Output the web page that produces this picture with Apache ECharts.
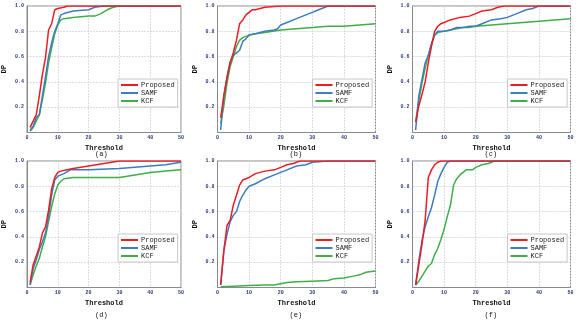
<!DOCTYPE html>
<html><head><meta charset="utf-8">
<script src="https://cdn.jsdelivr.net/npm/echarts@6/dist/echarts.min.js"></script>
<style>html,body{margin:0;padding:0;background:#fff}#c{width:579px;height:322px}</style>
</head><body><div id="c"></div>
<script>
var seriesNames = ['Proposed', 'SAMF', 'KCF'];
var captions = ['(a)', '(b)', '(c)', '(d)', '(e)', '(f)'];
var xTicks = [0, 10, 20, 30, 40, 50];
var yTicks = [0.2, 0.4, 0.6, 0.8, 1.0];

// Panel (a)
var aProposed = [[1,0.04],[2,0.09],[3,0.14],[4,0.29],[5,0.46],[6,0.59],[7,0.81],[8,0.86],[9,0.97],[10,0.98],[12,0.99],[13,1.0],[50,1.0]];
var aSAMF = [[1,0.02],[2,0.05],[3,0.12],[4,0.14],[5,0.29],[6,0.44],[7,0.60],[8,0.71],[9,0.80],[10,0.86],[11,0.93],[12,0.94],[15,0.96],[20,0.97],[22,0.99],[25,1.0],[50,1.0]];
var aKCF = [[1,0.01],[2,0.04],[3,0.09],[4,0.14],[5,0.26],[6,0.39],[7,0.55],[8,0.67],[9,0.78],[10,0.85],[11,0.89],[12,0.90],[15,0.91],[20,0.92],[22,0.92],[24,0.94],[26,0.97],[28,0.99],[30,1.0],[50,1.0]];
// Panel (b)
var bProposed = [[1,0.115],[2,0.29],[3,0.43],[4,0.55],[5,0.63],[6,0.73],[7,0.86],[8,0.89],[9,0.93],[10,0.95],[11,0.97],[12,0.97],[15,0.99],[20,1.0],[50,1.0]];
var bSAMF = [[1,0.02],[2,0.29],[3,0.44],[4,0.56],[5,0.61],[6,0.63],[7,0.65],[8,0.72],[9,0.74],[10,0.77],[12,0.78],[15,0.80],[18,0.81],[19,0.82],[20,0.85],[22,0.87],[25,0.90],[28,0.93],[30,0.95],[32,0.97],[34,0.99],[35,1.0],[50,1.0]];
var bKCF = [[1,0.07],[2,0.21],[3,0.39],[4,0.52],[5,0.60],[6,0.68],[7,0.73],[8,0.75],[10,0.77],[12,0.78],[15,0.79],[20,0.81],[25,0.82],[30,0.83],[35,0.84],[40,0.84],[45,0.85],[50,0.86]];
// Panel (c)
var cProposed = [[1,0.08],[2,0.21],[3,0.30],[4,0.40],[5,0.55],[6,0.68],[7,0.80],[8,0.84],[9,0.86],[10,0.87],[12,0.89],[15,0.91],[18,0.92],[20,0.94],[22,0.96],[25,0.97],[27,0.99],[29,1.0],[50,1.0]];
var cSAMF = [[1,0.02],[2,0.29],[3,0.42],[4,0.55],[5,0.61],[6,0.70],[7,0.77],[8,0.80],[10,0.80],[12,0.81],[14,0.83],[16,0.83],[18,0.84],[20,0.84],[22,0.86],[25,0.89],[28,0.90],[30,0.91],[33,0.94],[36,0.97],[38,0.98],[40,1.0],[50,1.0]];
var cKCF = [[1,0.09],[2,0.25],[3,0.39],[4,0.51],[5,0.61],[6,0.70],[7,0.77],[8,0.79],[10,0.80],[12,0.81],[14,0.82],[16,0.83],[18,0.83],[20,0.84],[25,0.85],[30,0.86],[35,0.87],[40,0.88],[45,0.89],[50,0.90]];
// Panel (d)
var dProposed = [[1,0.04],[2,0.18],[3,0.25],[4,0.32],[5,0.43],[6,0.48],[7,0.61],[8,0.78],[9,0.87],[10,0.91],[11,0.92],[13,0.93],[15,0.94],[20,0.96],[25,0.98],[30,1.0],[50,1.0]];
var dSAMF = [[1,0.02],[2,0.15],[3,0.22],[4,0.30],[5,0.36],[6,0.43],[7,0.56],[8,0.73],[9,0.85],[10,0.88],[12,0.90],[14,0.93],[20,0.93],[30,0.94],[40,0.96],[45,0.97],[50,0.99]];
var dKCF = [[1,0.02],[2,0.10],[3,0.17],[4,0.23],[5,0.32],[6,0.40],[7,0.52],[8,0.64],[9,0.74],[10,0.81],[11,0.84],[12,0.86],[15,0.87],[20,0.87],[28,0.87],[30,0.87],[35,0.89],[40,0.91],[45,0.92],[50,0.93]];
// Panel (e)
var eProposed = [[1,0.02],[2,0.29],[3,0.49],[4,0.53],[5,0.65],[6,0.73],[7,0.81],[8,0.85],[9,0.86],[10,0.87],[12,0.90],[15,0.92],[18,0.93],[20,0.95],[22,0.97],[24,0.98],[26,1.0],[50,1.0]];
var eSAMF = [[1,0.02],[2,0.29],[3,0.42],[4,0.52],[5,0.57],[6,0.60],[7,0.68],[8,0.73],[9,0.77],[10,0.80],[12,0.82],[15,0.86],[18,0.89],[20,0.91],[22,0.93],[25,0.96],[28,0.97],[30,0.99],[35,1.0],[50,1.0]];
var eKCF = [[1,0.005],[5,0.01],[10,0.015],[15,0.02],[18,0.02],[20,0.03],[22,0.04],[25,0.045],[30,0.05],[35,0.055],[37,0.07],[40,0.075],[43,0.09],[45,0.10],[47,0.12],[50,0.13]];
// Panel (f)
var fProposed = [[1,0.02],[2,0.18],[3,0.34],[4,0.53],[5,0.87],[6,0.93],[7,0.97],[8,0.99],[9,1.0],[50,1.0]];
var fSAMF = [[1,0.02],[2,0.21],[3,0.37],[4,0.48],[5,0.56],[6,0.63],[7,0.73],[8,0.84],[9,0.90],[10,0.95],[11,0.99],[12,1.0],[50,1.0]];
var fKCF = [[1,0.02],[2,0.05],[3,0.09],[4,0.13],[5,0.17],[6,0.19],[7,0.26],[8,0.31],[9,0.38],[10,0.46],[11,0.56],[12,0.65],[13,0.81],[14,0.86],[15,0.89],[16,0.91],[17,0.93],[19,0.93],[20,0.95],[22,0.97],[24,0.98],[26,1.0],[50,1.0]];

var panels = [
  [aProposed, aSAMF, aKCF], [bProposed, bSAMF, bKCF], [cProposed, cSAMF, cKCF],
  [dProposed, dSAMF, dKCF], [eProposed, eSAMF, eKCF], [fProposed, fSAMF, fKCF]
];
var colors = ['#ec1c24', '#3b7dc0', '#3fae49'];
var lefts = [23, 217.5, 412.5];
var tops = [6, 161];
var gw = 158, gh = 126.5;
var mono = '"Liberation Mono", monospace';

var grids = [], xAxes = [], yAxes = [], series = [], legends = [], graphics = [];
panels.forEach(function (p, i) {
  var col = i % 3, row = Math.floor(i / 3);
  var L = lefts[col], T = tops[row];
  grids.push({left: L, top: T, width: gw, height: gh, show: true, borderColor: '#8a8a8a', borderWidth: 1, containLabel: false});
  xAxes.push({
    gridIndex: i, type: 'value', min: xTicks[0], max: xTicks[xTicks.length - 1], interval: 10,
    name: 'Threshold', nameLocation: 'middle', nameGap: 12,
    nameTextStyle: {fontFamily: mono, fontSize: 7, fontWeight: 'bold', color: '#111'},
    axisLine: {show: true, lineStyle: {color: '#8a8a8a', width: 1}},
    axisTick: {show: false},
    axisLabel: {fontFamily: mono, fontSize: 5, fontWeight: 'bold', color: '#2c3a86', margin: 3},
    splitLine: {show: true, lineStyle: {color: '#d4d4d4', type: [2, 1], width: 0.8}}
  });
  yAxes.push({
    gridIndex: i, type: 'value', min: 0, max: 1, interval: 0.2,
    name: 'DP', nameLocation: 'middle', nameGap: 19, nameRotate: 90,
    nameTextStyle: {fontFamily: mono, fontSize: 7, fontWeight: 'bold', color: '#111'},
    axisLine: {show: true, lineStyle: {color: '#8a8a8a', width: 1}},
    axisTick: {show: false},
    axisLabel: {fontFamily: mono, fontSize: 5, fontWeight: 'bold', color: '#2c3a86', margin: 3,
      formatter: function (v) { return yTicks.indexOf(Math.round(v * 10) / 10) >= 0 && v > 0 ? v.toFixed(1) : ''; }},
    splitLine: {show: true, lineStyle: {color: '#d4d4d4', type: [2, 1], width: 0.8}}
  });
  p.forEach(function (d, k) {
    series.push({
      name: seriesNames[k], type: 'line', xAxisIndex: i, yAxisIndex: i, data: d,
      showSymbol: false, symbol: 'none', smooth: false, z: 3 - k + 2,
      lineStyle: {color: colors[k], width: 1.5}, itemStyle: {color: colors[k]}
    });
  });
  legends.push({
    data: seriesNames, orient: 'vertical', left: L + gw - 63, top: T + 73,
    icon: 'rect', itemWidth: 17, itemHeight: 2, itemGap: 0,
    padding: [2, 3, 2, 3], borderColor: '#c8c8c8', borderWidth: 1, backgroundColor: '#fff',
    textStyle: {fontFamily: mono, fontSize: 7, color: '#222', lineHeight: 8, padding: [0, 0, 0, -2]},
    selectedMode: false
  });
  graphics.push({
    type: 'text', left: L + gw / 2 - 7, top: (row === 0 ? 150.5 : 312),
    style: {text: captions[i], font: '7px ' + mono, fill: '#111'}
  });
});

var chart = echarts.init(document.getElementById('c'), null, {renderer: 'canvas'});
chart.setOption({
  animation: false,
  color: colors,
  grid: grids, xAxis: xAxes, yAxis: yAxes, series: series, legend: legends, graphic: graphics
});
</script></body></html>
